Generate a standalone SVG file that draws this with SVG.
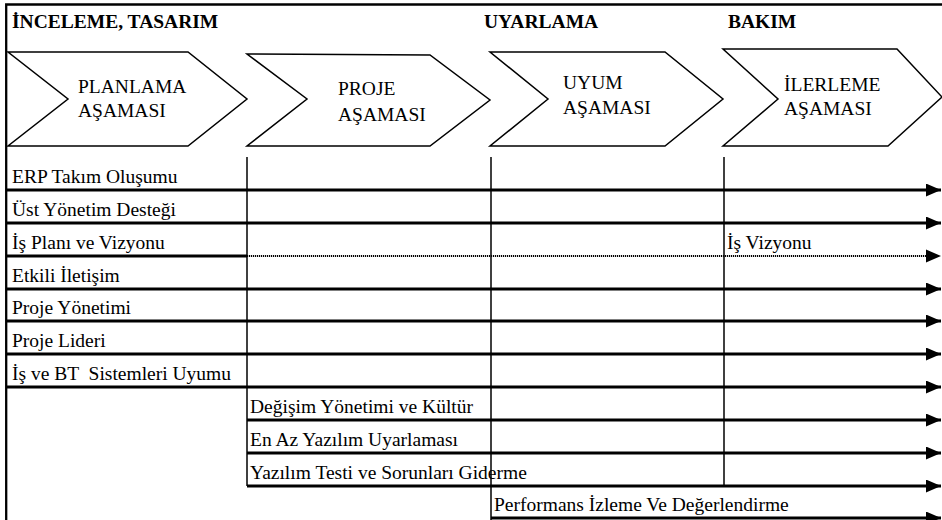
<svg xmlns="http://www.w3.org/2000/svg" width="942" height="520" viewBox="0 0 942 520">
  <style>
    .t { font-family: 'Liberation Serif', serif; font-size: 19.5px; fill: #000; }
    .h { font-family: 'Liberation Serif', serif; font-size: 19.5px; font-weight: bold; fill: #000; }
    .chev { fill: #fff; stroke: #000; stroke-width: 1.5; stroke-linejoin: miter; }
    .row { stroke: #000; stroke-width: 3; fill: none; }
    .dot { stroke: #000; stroke-width: 2; stroke-dasharray: 1.2 0.8; fill: none; }
    .vl { stroke: #000; stroke-width: 1.5; fill: none; }
    .frame { stroke: #000; stroke-width: 2.3; fill: none; }
  </style>
  <defs>
    <marker id="ah" markerUnits="userSpaceOnUse" viewBox="0 0 15 13" refX="15" refY="6.5" markerWidth="15" markerHeight="13" orient="auto">
      <path d="M0,0 L15,6.5 L0,13 z" fill="#000"/>
    </marker>
  </defs>
  <rect x="0" y="0" width="942" height="520" fill="#fff"/>

  <g id="frame">
    <path class="frame" d="M6.2,520 L6.2,4.5 L942,4.5"/>
  </g>

  <g id="header-inceleme"><text class="h" x="12" y="28">İNCELEME, TASARIM</text></g>
  <g id="header-uyarlama"><text class="h" x="484" y="28">UYARLAMA</text></g>
  <g id="header-bakim"><text class="h" x="728" y="28">BAKIM</text></g>

  <g id="phase-planlama">
    <polygon class="chev" points="8,52 188,52 247,99 188,146 8,146 68,99"/>
    <text class="t" x="78" y="93">PLANLAMA</text>
    <text class="t" x="78" y="117">AŞAMASI</text>
  </g>
  <g id="phase-proje">
    <polygon class="chev" points="247,54 430,55 490,100 430,146 247,146 307,99"/>
    <text class="t" x="338" y="95">PROJE</text>
    <text class="t" x="338" y="121">AŞAMASI</text>
  </g>
  <g id="phase-uyum">
    <polygon class="chev" points="490,52 665,52 723,99 665,146 490,146 548,99"/>
    <text class="t" x="563" y="89">UYUM</text>
    <text class="t" x="563" y="114">AŞAMASI</text>
  </g>
  <g id="phase-ilerleme">
    <polygon class="chev" points="723,49 897,49 942,97 888,146 723,146 778,99"/>
    <text class="t" x="784" y="91">İLERLEME</text>
    <text class="t" x="784" y="115">AŞAMASI</text>
  </g>

  <g id="connectors">
    <line class="vl" x1="247" y1="157" x2="247" y2="486"/>
    <line class="vl" x1="491" y1="157" x2="491" y2="520"/>
    <line class="vl" x1="724" y1="157" x2="724" y2="486"/>

    <line class="row" x1="6" y1="190" x2="941" y2="190" marker-end="url(#ah)"/>
    <line class="row" x1="6" y1="223" x2="941" y2="223" marker-end="url(#ah)"/>
    <line class="row" x1="6" y1="256" x2="247" y2="256"/>
    <line class="dot" x1="247" y1="256" x2="930" y2="256"/>
    <path d="M926,249.5 L941,256 L926,262.5 z" fill="#000"/>
    <line class="row" x1="6" y1="289" x2="941" y2="289" marker-end="url(#ah)"/>
    <line class="row" x1="6" y1="321" x2="941" y2="321" marker-end="url(#ah)"/>
    <line class="row" x1="6" y1="354" x2="941" y2="354" marker-end="url(#ah)"/>
    <line class="row" x1="6" y1="387" x2="941" y2="387" marker-end="url(#ah)"/>
    <line class="row" x1="247" y1="420" x2="941" y2="420" marker-end="url(#ah)"/>
    <line class="row" x1="247" y1="453" x2="941" y2="453" marker-end="url(#ah)"/>
    <line class="row" x1="247" y1="486" x2="941" y2="486" marker-end="url(#ah)"/>
    <line class="row" x1="491" y1="518" x2="941" y2="518" marker-end="url(#ah)"/>
  </g>

  <g id="row-erp"><text class="t" x="12" y="183">ERP Takım Oluşumu</text></g>
  <g id="row-ust"><text class="t" x="12" y="216">Üst Yönetim Desteği</text></g>
  <g id="row-isplani">
    <text class="t" x="12" y="249">İş Planı ve Vizyonu</text>
    <text class="t" x="727" y="249">İş Vizyonu</text>
  </g>
  <g id="row-etkili"><text class="t" x="12" y="282">Etkili İletişim</text></g>
  <g id="row-projeyon"><text class="t" x="12" y="314">Proje Yönetimi</text></g>
  <g id="row-projelid"><text class="t" x="12" y="347">Proje Lideri</text></g>
  <g id="row-isbt"><text class="t" x="12" y="380" xml:space="preserve">İş ve BT  Sistemleri Uyumu</text></g>
  <g id="row-degisim"><text class="t" x="250" y="413">Değişim Yönetimi ve Kültür</text></g>
  <g id="row-enaz"><text class="t" x="250" y="446">En Az Yazılım Uyarlaması</text></g>
  <g id="row-yazilim"><text class="t" x="250" y="479">Yazılım Testi ve Sorunları Giderme</text></g>
  <g id="row-performans"><text class="t" x="494" y="511">Performans İzleme Ve Değerlendirme</text></g>
</svg>
